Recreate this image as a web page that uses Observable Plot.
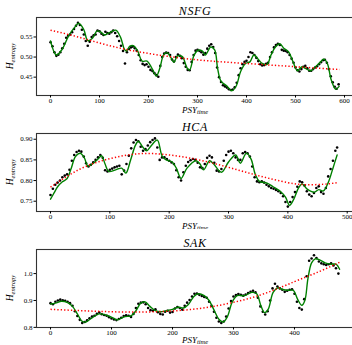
<!DOCTYPE html>
<html><head><meta charset="utf-8">
<script src="https://cdn.jsdelivr.net/npm/d3@7"></script>
<script src="https://cdn.jsdelivr.net/npm/@observablehq/plot@0.6"></script>
<style>
body{margin:0;background:#fff}
#c{position:relative;width:352px;height:345px;overflow:hidden;background:#fff}
#c svg{position:absolute;left:0}
</style>
</head><body><div id="c"></div><script>
// ---------- NSFG ----------
const nsfgTime = [0,4,8,12,16,20,24,28,32,36,40,44,48,52,56,60,64,68,72,76,80,84,88,92,96,100,104,108,112,116,120,124,128,132,136,140,144,148,152,156,160,164,168,172,176,180,184,188,192,196,200,204,208,212,216,220,224,228,232,236,240,244,248,252,256,260,264,268,272,276,280,284,288,292,296,300,304,308,312,316,320,324,328,332,336,340,344,348,352,356,360,364,368,372,376,380,384,388,392,396,400,404,408,412,416,420,424,428,432,436,440,444,448,452,456,460,464,468,472,476,480,484,488,492,496,500,504,508,512,516,520,524,528,532,536,540,544,548,552,556,560,564,568,572,576,580,584,588];
const nsfgEntropy = [0.537,0.527,0.512,0.503,0.506,0.512,0.522,0.533,0.548,0.553,0.556,0.562,0.570,0.578,0.585,0.580,0.568,0.556,0.540,0.528,0.538,0.550,0.554,0.556,0.566,0.564,0.558,0.555,0.563,0.560,0.558,0.562,0.566,0.560,0.552,0.540,0.528,0.515,0.484,0.512,0.520,0.524,0.526,0.522,0.516,0.505,0.492,0.483,0.480,0.482,0.476,0.468,0.465,0.460,0.455,0.451,0.478,0.500,0.509,0.511,0.510,0.505,0.494,0.489,0.500,0.506,0.503,0.497,0.485,0.476,0.468,0.467,0.488,0.505,0.516,0.518,0.515,0.512,0.506,0.510,0.521,0.528,0.532,0.525,0.510,0.474,0.450,0.438,0.430,0.427,0.424,0.420,0.418,0.419,0.425,0.436,0.455,0.472,0.482,0.488,0.491,0.500,0.512,0.510,0.505,0.498,0.490,0.482,0.479,0.480,0.483,0.486,0.500,0.512,0.524,0.530,0.533,0.530,0.518,0.516,0.515,0.512,0.505,0.496,0.486,0.474,0.467,0.464,0.470,0.476,0.478,0.472,0.466,0.466,0.470,0.474,0.477,0.482,0.487,0.492,0.493,0.486,0.470,0.452,0.437,0.426,0.421,0.432];
const nsfgSmoothTime = [0,12,24,37,48,58,68,76,85,95,102,110,119,133,143,151,155,162,170,178,187,197,207,216,223,231,238,246,252,259,269,279,284,293,301,310,316,327,335,341,348,360,370,379,388,398,407,415,425,432,442,450,459,468,476,486,495,504,513,520,531,541,551,558,565,573,582,589];
const nsfgSmooth = [0.540,0.505,0.520,0.553,0.572,0.584,0.568,0.541,0.546,0.565,0.563,0.555,0.560,0.567,0.549,0.519,0.515,0.527,0.528,0.515,0.490,0.490,0.472,0.453,0.472,0.506,0.511,0.498,0.487,0.503,0.501,0.472,0.468,0.505,0.517,0.515,0.505,0.525,0.518,0.472,0.440,0.428,0.416,0.428,0.464,0.484,0.488,0.505,0.493,0.484,0.482,0.505,0.525,0.533,0.522,0.513,0.488,0.466,0.476,0.472,0.466,0.476,0.488,0.495,0.484,0.443,0.420,0.427];
const nsfgTrendTime = [0,50,100,150,200,250,300,350,400,450,500,550,590];
const nsfgTrend = [0.567,0.552,0.535,0.520,0.509,0.500,0.493,0.488,0.484,0.480,0.476,0.472,0.469];

// ---------- HCA ----------
const hcaTime = [0,4,8,12,16,20,24,28,32,36,40,44,48,52,56,60,64,68,72,76,80,84,88,92,96,100,104,108,112,116,120,124,128,132,136,140,144,148,152,156,160,164,168,172,176,180,184,188,192,196,200,204,208,212,216,220,224,228,232,236,240,244,248,252,256,260,264,268,272,276,280,284,288,292,296,300,304,308,312,316,320,324,328,332,336,340,344,348,352,356,360,364,368,372,376,380,384,388,392,396,400,404,408,412,416,420,424,428,432,436,440,444,448,452,456,460,464,468,472,476,480,483];
const hcaEntropy = [0.765,0.780,0.790,0.795,0.800,0.808,0.812,0.815,0.826,0.848,0.862,0.869,0.872,0.870,0.858,0.842,0.834,0.838,0.844,0.850,0.856,0.862,0.855,0.825,0.822,0.826,0.829,0.832,0.834,0.836,0.815,0.824,0.840,0.860,0.878,0.892,0.898,0.895,0.882,0.872,0.876,0.885,0.893,0.898,0.902,0.880,0.850,0.856,0.856,0.852,0.848,0.844,0.840,0.825,0.808,0.800,0.820,0.836,0.845,0.849,0.852,0.850,0.843,0.832,0.830,0.840,0.855,0.860,0.856,0.843,0.824,0.822,0.828,0.848,0.862,0.870,0.872,0.866,0.856,0.850,0.850,0.866,0.869,0.866,0.858,0.834,0.808,0.798,0.796,0.798,0.795,0.790,0.786,0.782,0.780,0.777,0.774,0.770,0.762,0.748,0.737,0.748,0.760,0.772,0.785,0.798,0.796,0.788,0.774,0.766,0.762,0.770,0.782,0.786,0.772,0.768,0.782,0.810,0.828,0.848,0.872,0.880];
const hcaSmoothTime = [0,6,12,20,28,35,42,50,57,63,72,80,86,92,98,110,120,127,135,143,148,155,162,170,180,188,195,205,212,220,230,245,252,258,268,275,288,300,312,320,330,338,345,352,365,375,388,396,403,410,418,424,432,445,452,460,468,476,483];
const hcaSmooth = [0.755,0.770,0.785,0.797,0.805,0.830,0.858,0.866,0.855,0.835,0.842,0.852,0.860,0.840,0.822,0.826,0.830,0.818,0.850,0.885,0.895,0.882,0.872,0.885,0.898,0.860,0.850,0.845,0.830,0.805,0.830,0.848,0.840,0.826,0.848,0.840,0.820,0.845,0.862,0.842,0.866,0.852,0.815,0.798,0.794,0.785,0.773,0.760,0.740,0.755,0.782,0.792,0.780,0.772,0.778,0.775,0.795,0.830,0.862];
const hcaTrendTime = [0,50,100,150,200,250,300,350,400,430,460,483];
const hcaTrend = [0.784,0.828,0.853,0.865,0.862,0.850,0.832,0.812,0.795,0.790,0.791,0.795];

// ---------- SAK ----------
const sakTime = [0,4,8,12,16,20,24,28,32,36,40,44,48,52,56,60,64,68,72,76,80,84,88,92,96,100,104,108,112,116,120,124,128,132,136,140,144,148,152,156,160,164,168,172,176,180,184,188,192,196,200,204,208,212,216,220,224,228,232,236,240,244,248,252,256,260,264,268,272,276,280,284,288,292,296,300,304,308,312,316,320,324,328,332,336,340,344,348,352,356,360,364,368,372,376,380,384,388,392,396,400,404,408,412,416,420,424,428,432,436,440,444,448,452,456,460,464,468,472];
const sakEntropy = [0.890,0.886,0.895,0.900,0.903,0.901,0.899,0.895,0.890,0.880,0.860,0.842,0.828,0.816,0.820,0.826,0.834,0.840,0.843,0.850,0.855,0.849,0.846,0.843,0.838,0.833,0.829,0.827,0.831,0.836,0.842,0.845,0.843,0.839,0.850,0.872,0.888,0.892,0.893,0.886,0.872,0.864,0.862,0.867,0.856,0.850,0.848,0.858,0.862,0.855,0.857,0.870,0.876,0.872,0.866,0.880,0.892,0.902,0.915,0.925,0.926,0.921,0.917,0.913,0.910,0.895,0.880,0.858,0.836,0.822,0.816,0.822,0.840,0.870,0.898,0.915,0.920,0.924,0.921,0.918,0.922,0.928,0.932,0.936,0.930,0.910,0.878,0.858,0.848,0.860,0.900,0.945,0.962,0.952,0.945,0.940,0.932,0.936,0.940,0.942,0.925,0.895,0.872,0.866,0.905,0.990,1.048,1.056,1.068,1.058,1.045,1.038,1.035,1.032,1.035,1.038,1.030,1.020,1.000];
const sakSmoothTime = [0,8,18,28,36,44,52,58,66,80,92,105,110,122,132,140,148,155,163,172,180,190,200,210,218,226,235,242,252,260,268,276,283,290,298,306,318,330,338,345,351,357,365,373,382,390,398,405,412,417,422,428,434,442,450,460,468,474];
const sakSmooth = [0.887,0.890,0.897,0.892,0.878,0.850,0.822,0.820,0.832,0.850,0.845,0.832,0.828,0.840,0.843,0.862,0.890,0.895,0.878,0.862,0.858,0.862,0.867,0.875,0.872,0.885,0.915,0.925,0.918,0.900,0.865,0.830,0.820,0.840,0.895,0.918,0.918,0.930,0.925,0.880,0.855,0.868,0.930,0.947,0.940,0.938,0.938,0.905,0.882,0.900,0.980,1.040,1.055,1.050,1.040,1.035,1.035,1.016];
const sakTrendTime = [0,50,100,150,200,250,300,350,400,440,474];
const sakTrend = [0.867,0.862,0.858,0.857,0.861,0.872,0.893,0.925,0.970,1.007,1.042];

const titles = ["NSFG","HCA","SAK"];

function rows(ts, vs){ return ts.map((t,i)=>({t, v: vs[i]})); }

function panel(o){
  const W = 352;
  const svg = Plot.plot({
    width: W, height: o.height,
    marginLeft: 36, marginRight: -2, marginTop: o.mt, marginBottom: o.mb,
    style: {fontFamily: "'Liberation Serif', serif", fontSize: "7px", background: "white", overflow: "visible"},
    x: {domain: o.xDomain},
    y: {domain: o.yDomain},
    marks: [
      Plot.dot(rows(o.t, o.v), {x: "t", y: "v", r: 1.3, fill: "black", stroke: "none"}),
      Plot.line(rows(o.st, o.sv), {x: "t", y: "v", stroke: "#008000", strokeWidth: 1.4, curve: "catmull-rom"}),
      Plot.line(rows(o.rt, o.rv), {x: "t", y: "v", stroke: "#ff0000", strokeWidth: 1.5, strokeDasharray: "1.3,2.1", strokeLinecap: "butt", curve: "natural"}),
      Plot.frame({stroke: "#333", strokeWidth: 1.1}),
      Plot.axisX({ticks: o.xTicks, tickSize: 2.5, tickPadding: 0, label: null, fontSize: 7, tickFormat: d3.format("d")}),
      Plot.axisY({ticks: o.yTicks, tickSize: 2.5, tickPadding: 1.5, label: null, fontSize: 7, tickFormat: d3.format(o.yFmt)})
    ]
  });
  svg.style.top = o.top + "px";
  const s = d3.select(svg);
  const fh = o.height - o.mt - o.mb;
  const cx = (36 + W + 2) / 2;
  s.append("text").attr("x", cx).attr("y", o.mt - 2.5)
    .attr("text-anchor", "middle").attr("font-style", "italic")
    .attr("font-size", 12).attr("letter-spacing", 0.6).attr("fill", "#000")
    .text(o.title);
  const yl = s.append("text").attr("transform", `translate(13,${o.mt + fh/2}) rotate(-90)`)
    .attr("text-anchor", "middle").attr("font-style", "italic").attr("fill", "#000");
  yl.append("tspan").attr("font-size", 9.5).text("H");
  yl.append("tspan").attr("font-size", 6.5).attr("dy", 2).text("entropy");
  const xl = s.append("text").attr("x", cx).attr("y", o.height - o.mb + o.xlOff)
    .attr("text-anchor", "middle").attr("font-style", "italic").attr("fill", "#000");
  xl.append("tspan").attr("font-size", 9).text("PSY");
  xl.append("tspan").attr("font-size", 6.5).attr("dy", 1.5).text("time");
  document.getElementById("c").appendChild(svg);
}

panel({title: titles[0], t: nsfgTime, v: nsfgEntropy, st: nsfgSmoothTime, sv: nsfgSmooth, rt: nsfgTrendTime, rv: nsfgTrend,
  xDomain: [-28.6, 620.4], yDomain: [0.4043, 0.5985], xTicks: [0,100,200,300,400,500,600], yTicks: [0.45,0.50,0.55], yFmt: ".2f",
  top: 0, height: 114, mt: 17, mb: 19, xlOff: 17.5});
panel({title: titles[1], t: hcaTime, v: hcaEntropy, st: hcaSmoothTime, sv: hcaSmooth, rt: hcaTrendTime, rv: hcaTrend,
  xDomain: [-23.6, 512.3], yDomain: [0.7251, 0.9139], xTicks: [0,100,200,300,400,500], yTicks: [0.75,0.80,0.85,0.90], yFmt: ".2f",
  top: 114, height: 115, mt: 19, mb: 18, xlOff: 17.5});
panel({title: titles[2], t: sakTime, v: sakEntropy, st: sakSmoothTime, sv: sakSmooth, rt: sakTrendTime, rv: sakTrend,
  xDomain: [-23, 498.4], yDomain: [0.7995, 1.0896], xTicks: [0,100,200,300,400], yTicks: [0.8,0.9,1.0], yFmt: ".1f",
  top: 229, height: 116, mt: 20, mb: 18, xlOff: 15.8});
</script></body></html>
